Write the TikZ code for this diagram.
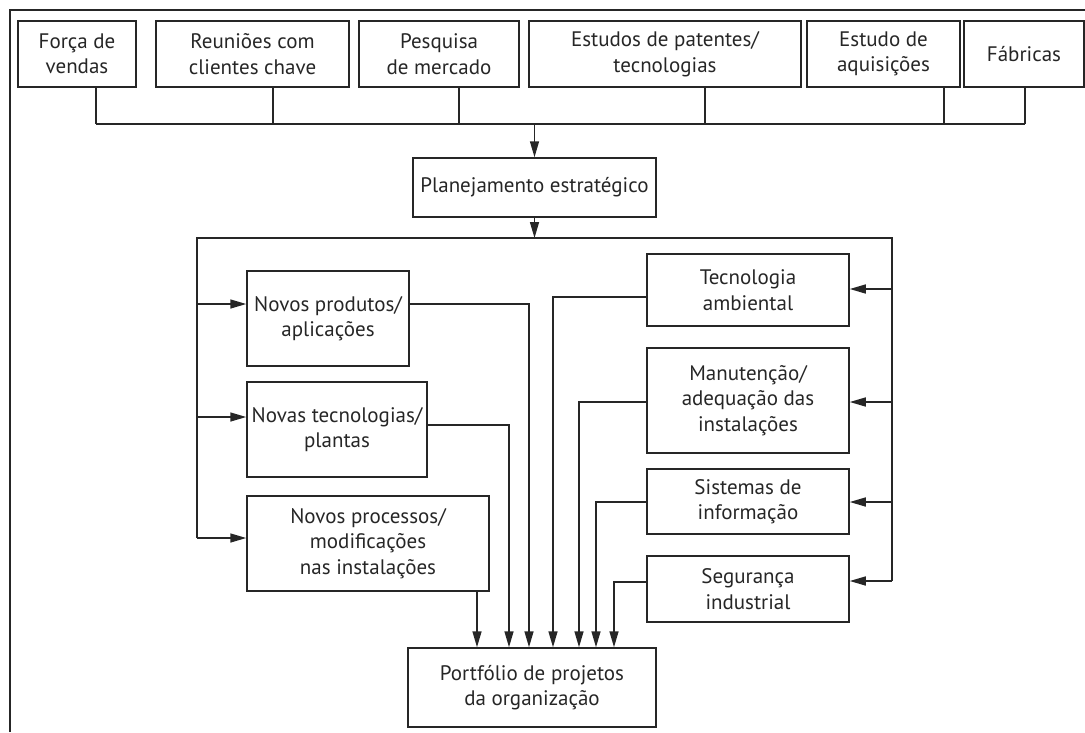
\documentclass[tikz,border=0pt]{standalone}
\usepackage{fontspec}
\setmainfont{PT Sans}
\usetikzlibrary{arrows.meta,calc}
\definecolor{ink}{HTML}{262626}
\begin{document}
\begin{tikzpicture}[x=1pt,y=-1pt,
  box/.style={draw=ink, line width=1.5pt, rectangle, inner sep=0pt, align=center,
    font=\fontsize{21}{25.5}\selectfont, text=ink},
  link/.style={draw=ink, line width=1.5pt},
  arr/.style={link, -{Triangle[length=16pt,width=9pt]}},
  frame/.style={draw=ink, line width=1.8pt}]
\useasboundingbox (0,0) rectangle (1085,732);
% frame
\coordinate (fr1) at (10,732);
\coordinate (fr2) at (10,10);
\coordinate (fr3) at (1085,10);
\draw[frame] (fr1) -- (fr2) -- (fr3);
% top row
\node[box, minimum width=118pt, minimum height=66pt] (f1) at (77,54) {Força de\\vendas};
\node[box, minimum width=193pt, minimum height=66pt] (f2) at (252.5,54) {Reuniões com\\clientes chave};
\node[box, minimum width=160pt, minimum height=66pt] (f3) at (439,54) {Pesquisa\\de mercado};
\node[box, minimum width=272pt, minimum height=66pt] (f4) at (665,54) {Estudos de patentes/\\tecnologias};
\node[box, minimum width=153pt, minimum height=66pt] (f5) at (883.5,54) {Estudo de\\aquisições};
\node[box, minimum width=120pt, minimum height=66pt] (f6) at (1024,54) {Fábricas};
% bus
\coordinate (busL) at (96,124);
\coordinate (busR) at (1025,124);
\draw[link] (busL) -- (busR);
\draw[link] ([xshift=19pt]f1.south) -- ([xshift=19pt]f1.south |- busL);
\draw[link] ([xshift=20.5pt]f2.south) -- ([xshift=20.5pt]f2.south |- busL);
\draw[link] ([xshift=20pt]f3.south) -- ([xshift=20pt]f3.south |- busL);
\draw[link] ([xshift=40pt]f4.south) -- ([xshift=40pt]f4.south |- busL);
\draw[link] ([xshift=60.5pt]f5.south) -- ([xshift=60.5pt]f5.south |- busL);
\draw[link] ([xshift=1pt]f6.south) -- ([xshift=1pt]f6.south |- busL);
% planning
\node[box, minimum width=243pt, minimum height=59pt] (plan) at (534.5,187.5) {Planejamento estratégico};
\draw[arr] (plan.north |- busL) -- (plan.north);
% distribution
\coordinate (lt) at (197,238);
\coordinate (rt) at (892,238);
\coordinate (lb) at (197,538);
\coordinate (rb) at (892,581);
\draw[arr] (plan.south) -- (plan.south |- lt);
\draw[link] (lb) -- (lt) -- (rt) -- (rb);
% left boxes
\node[box, minimum width=162pt, minimum height=95pt] (np) at (328,318.5) {Novos produtos/\\aplicações};
\node[box, minimum width=180pt, minimum height=95pt] (nt) at (337,429.5) {Novas tecnologias/\\plantas};
\node[box, minimum width=242pt, minimum height=95pt] (npr) at (368,543.5) {Novos processos/\\modificações\\nas instalações};
% right boxes
\node[box, minimum width=202pt, minimum height=72pt] (ta) at (748,290) {Tecnologia\\ambiental};
\node[box, minimum width=202pt, minimum height=105pt] (mn) at (748,400.5) {Manutenção/\\adequação das\\instalações};
\node[box, minimum width=202pt, minimum height=65pt] (si) at (748,501.5) {Sistemas de\\informação};
\node[box, minimum width=202pt, minimum height=66pt] (sg) at (748,589) {Segurança\\industrial};
% portfolio
\node[box, minimum width=248pt, minimum height=79pt] (port) at (532,687.5) {Portfólio de projetos\\da organização};
% inputs left
\coordinate (npin) at ([yshift=14.5pt]np.west);
\coordinate (ntin) at ([yshift=12.5pt]nt.west);
\coordinate (nprin) at ([yshift=5.5pt]npr.west);
\draw[arr] (npin -| lt) -- (npin);
\draw[arr] (ntin -| lt) -- (ntin);
\draw[arr] (nprin -| lt) -- (nprin);
% inputs right
\coordinate (tain) at ([yshift=1pt]ta.east);
\coordinate (mnin) at ([yshift=-1.5pt]mn.east);
\coordinate (siin) at ([yshift=-0.5pt]si.east);
\coordinate (sgin) at ([yshift=8pt]sg.east);
\draw[arr] (tain -| rt) -- (tain);
\draw[arr] (mnin -| rt) -- (mnin);
\draw[arr] (siin -| rt) -- (siin);
\draw[arr] (sgin -| rt) -- (sgin);
% outputs to portfolio
\draw[arr] ([xshift=109pt]npr.south) -- ([xshift=-55pt]port.north);
\draw[arr] ([yshift=4.5pt]nt.east) -| ([xshift=-23pt]port.north);
\draw[arr] ([yshift=14.5pt]np.east) -| ([xshift=-3pt]port.north);
\draw[arr] ([yshift=-7pt]ta.west) -| ([xshift=21pt]port.north);
\draw[arr] ([yshift=-1.5pt]mn.west) -| ([xshift=47pt]port.north);
\draw[arr] ([yshift=-0.5pt]si.west) -| ([xshift=64pt]port.north);
\draw[arr] ([yshift=7pt]sg.west) -| ([xshift=82pt]port.north);
\end{tikzpicture}
\end{document}
